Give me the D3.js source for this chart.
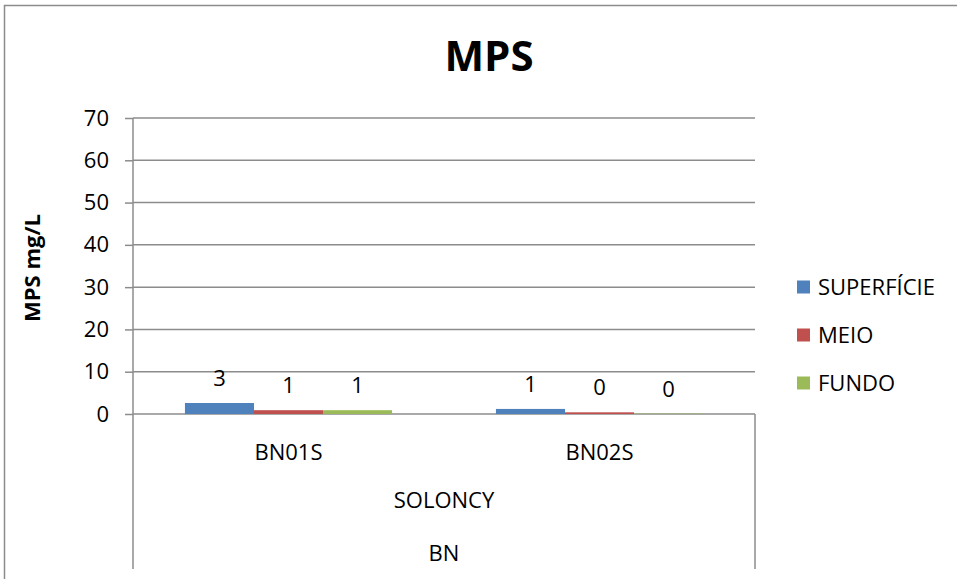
<!DOCTYPE html>
<html>
<head>
<meta charset="utf-8">
<script src="https://cdn.jsdelivr.net/npm/d3@7"></script>
<style>
  html, body { margin: 0; padding: 0; background: #fff; }
  svg { display: block; }
  text { font-family: "Open Sans", "Noto Sans", sans-serif; fill: #000; }
</style>
</head>
<body>
<svg id="chart" width="957" height="579"></svg>
<script>
// Sampling stations (inner level), site and region (outer levels)
const categories = ["BN01S", "BN02S"];
const siteLabel = "SOLONCY";
const regionLabel = "BN";

// Depth series
const seriesNames = ["SUPERFÍCIE", "MEIO", "FUNDO"];
const seriesColors = ["#4F81BD", "#C0504D", "#9BBB59"];

// MPS (mg/L) per station, one array per depth
const superficie = [2.6, 1.2];
const meio = [0.9, 0.4];
const fundo = [0.9, 0.1];

const yTicks = [0, 10, 20, 30, 40, 50, 60, 70];
const titleText = "MPS";
const yAxisTitle = "MPS mg/L";

const seriesValues = [superficie, meio, fundo];
const rows = categories.map((c, i) => ({
  cat: c,
  values: seriesNames.map((s, k) => ({ series: s, color: seriesColors[k], value: seriesValues[k][i] }))
}));

const svg = d3.select("#chart");
const plot = { left: 133, right: 755, top: 118, bottom: 414 };
const gridColor = "#8c8c8c";

// Outer chart frame
svg.append("rect")
  .attr("x", 4.5).attr("y", 5.5)
  .attr("width", 960).attr("height", 600)
  .attr("fill", "none").attr("stroke", "#8c8c8c").attr("stroke-width", 1.5);

const x0 = d3.scaleBand().domain(categories).range([plot.left, plot.right]).padding(0);
const groupGap = x0.bandwidth() * 0.334;
const x1 = d3.scaleBand().domain(seriesNames).range([groupGap / 2, x0.bandwidth() - groupGap / 2]).padding(0);
const y = d3.scaleLinear().domain([0, 70]).range([plot.bottom, plot.top]);

// Horizontal gridlines
svg.append("g")
  .selectAll("line")
  .data(yTicks)
  .join("line")
  .attr("x1", plot.left).attr("x2", plot.right)
  .attr("y1", d => y(d)).attr("y2", d => y(d))
  .attr("stroke", gridColor).attr("stroke-width", 1.5);

// Y axis with ticks and labels
const yAxis = svg.append("g")
  .attr("transform", `translate(${plot.left},0)`)
  .call(d3.axisLeft(y).tickValues(yTicks).tickSize(8).tickPadding(16).tickFormat(d3.format("d")));
yAxis.select(".domain").remove();
yAxis.selectAll(".tick line").attr("stroke", gridColor).attr("stroke-width", 1.5);
yAxis.selectAll(".tick text")
  .style("font-family", "'Open Sans', sans-serif")
  .style("font-size", "22px")
  .attr("fill", "#000");

// Vertical axis line and the outer category frame lines
svg.append("line")
  .attr("x1", plot.left).attr("x2", plot.left)
  .attr("y1", plot.top).attr("y2", 569)
  .attr("stroke", gridColor).attr("stroke-width", 1.5);
svg.append("line")
  .attr("x1", plot.right).attr("x2", plot.right)
  .attr("y1", plot.bottom).attr("y2", 569)
  .attr("stroke", gridColor).attr("stroke-width", 1.5);

// Bars
const groups = svg.append("g")
  .selectAll("g")
  .data(rows)
  .join("g")
  .attr("transform", d => `translate(${x0(d.cat)},0)`);

groups.selectAll("rect")
  .data(d => d.values)
  .join("rect")
  .attr("x", d => x1(d.series))
  .attr("width", x1.bandwidth())
  .attr("y", d => y(d.value))
  .attr("height", d => y(0) - y(d.value))
  .attr("fill", d => d.color);

// Value labels
const fmt = d3.format(".0f");
groups.selectAll("text.val")
  .data(d => d.values)
  .join("text")
  .attr("class", "val")
  .attr("x", d => x1(d.series) + x1.bandwidth() / 2)
  .attr("y", d => y(d.value) - 17)
  .attr("text-anchor", "middle")
  .style("font-size", "22px")
  .text(d => fmt(d.value));

// Category labels: stations, site, region
svg.append("g")
  .selectAll("text")
  .data(categories)
  .join("text")
  .attr("x", d => x0(d) + x0.bandwidth() / 2)
  .attr("y", 460)
  .attr("text-anchor", "middle")
  .style("font-size", "22px")
  .text(d => d);

svg.append("text")
  .attr("x", (plot.left + plot.right) / 2).attr("y", 508)
  .attr("text-anchor", "middle").style("font-size", "22px")
  .text(siteLabel);

svg.append("text")
  .attr("x", (plot.left + plot.right) / 2).attr("y", 561)
  .attr("text-anchor", "middle").style("font-size", "22px")
  .text(regionLabel);

// Title
svg.append("text")
  .attr("x", 489).attr("y", 71)
  .attr("text-anchor", "middle")
  .style("font-size", "42px").style("font-weight", "bold")
  .text(titleText);

// Y axis title
svg.append("text")
  .attr("transform", "translate(40,268) rotate(-90)")
  .attr("text-anchor", "middle")
  .style("font-size", "22px").style("font-weight", "bold")
  .text(yAxisTitle);

// Legend
const legend = svg.append("g")
  .selectAll("g")
  .data(seriesNames)
  .join("g")
  .attr("transform", (d, i) => `translate(797,${287 + i * 48})`);
legend.append("rect")
  .attr("x", 0).attr("y", -6.5)
  .attr("width", 13).attr("height", 13)
  .attr("fill", (d, i) => seriesColors[i]);
legend.append("text")
  .attr("x", 21).attr("y", 8)
  .style("font-size", "22px")
  .text(d => d);
</script>
</body>
</html>
